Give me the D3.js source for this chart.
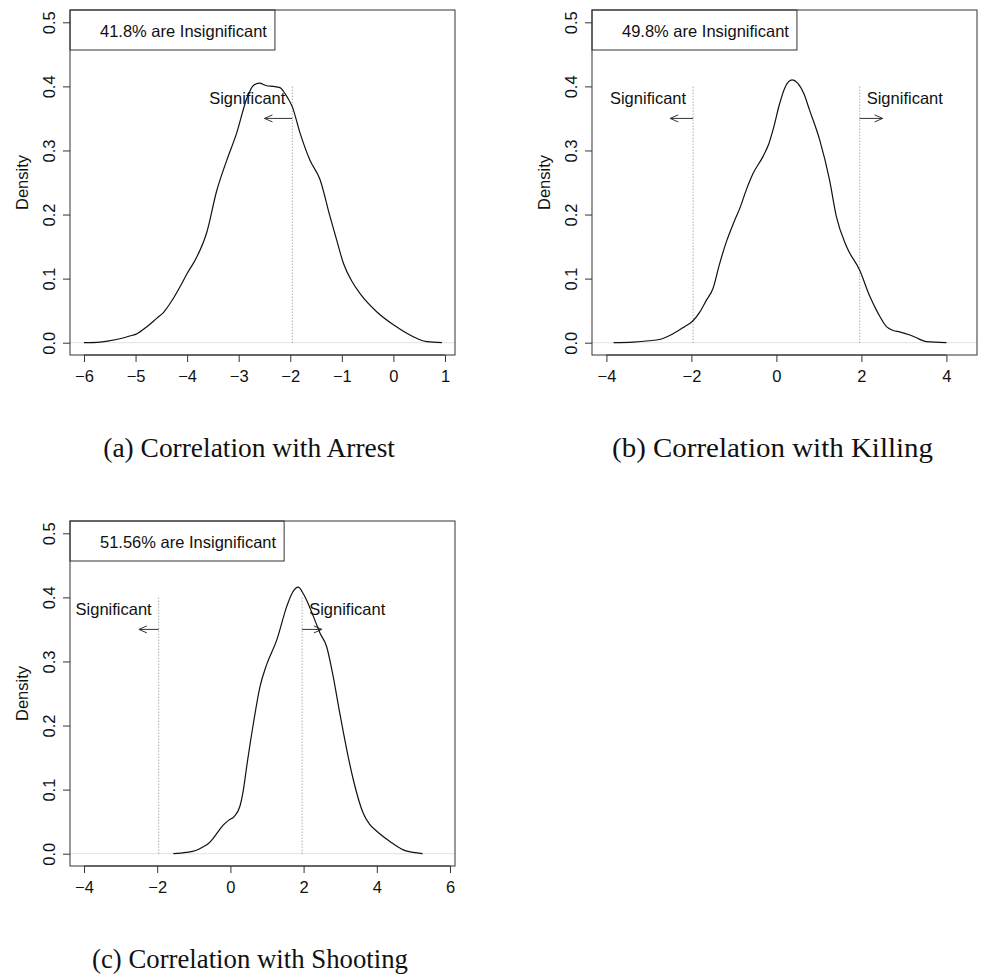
<!DOCTYPE html>
<html>
<head>
<meta charset="utf-8">
<script src="https://cdn.jsdelivr.net/npm/d3@7"></script>
<style>
  html, body { margin: 0; padding: 0; background: #fff; }
  svg { display: block; }
</style>
</head>
<body>
<svg id="chart" width="982" height="974"></svg>
<script>
// ---------------- data ----------------
const arrestX = [-6.0,-5.69,-5.37,-5.11,-5.0,-4.78,-4.59,-4.46,-4.3,-4.14,-4.0,-3.81,-3.62,-3.43,-3.23,-3.04,-2.84,-2.72,-2.6,-2.46,-2.33,-2.2,-2.13,-2.05,-1.96,-1.81,-1.62,-1.42,-1.23,-1.1,-0.97,-0.8,-0.65,-0.32,0.0,0.32,0.5,0.65,0.94];
const arrestY = [0,0.001,0.005,0.0105,0.013,0.025,0.038,0.047,0.065,0.087,0.108,0.134,0.172,0.236,0.285,0.327,0.382,0.401,0.405,0.401,0.400,0.398,0.392,0.382,0.368,0.327,0.285,0.254,0.197,0.16,0.124,0.095,0.077,0.048,0.028,0.012,0.005,0.0016,0];

const killingX = [-3.83,-3.37,-3.0,-2.75,-2.43,-2.16,-1.98,-1.8,-1.65,-1.49,-1.35,-1.18,-1.0,-0.86,-0.7,-0.55,-0.32,-0.18,-0.08,0.08,0.2,0.37,0.5,0.65,0.78,1.02,1.25,1.41,1.65,1.96,2.2,2.4,2.59,2.75,2.9,3.14,3.35,3.53,4.0];
const killingY = [0,0.001,0.003,0.005,0.014,0.025,0.033,0.048,0.066,0.085,0.12,0.157,0.188,0.210,0.24,0.264,0.29,0.31,0.332,0.374,0.398,0.41,0.405,0.388,0.363,0.316,0.254,0.197,0.15,0.113,0.072,0.045,0.025,0.019,0.017,0.012,0.006,0.0016,0];

const shootingX = [-1.56,-1.2,-0.95,-0.74,-0.6,-0.47,-0.33,-0.19,-0.05,0.1,0.26,0.35,0.445,0.63,0.81,0.99,1.27,1.54,1.7,1.85,2.0,2.08,2.27,2.45,2.63,2.81,2.99,3.18,3.36,3.63,3.8,4.0,4.36,4.72,5.0,5.25];
const shootingY = [0,0.002,0.005,0.011,0.016,0.024,0.035,0.045,0.052,0.058,0.074,0.098,0.136,0.204,0.261,0.295,0.334,0.386,0.408,0.416,0.405,0.396,0.37,0.344,0.323,0.276,0.219,0.162,0.115,0.063,0.046,0.035,0.019,0.006,0.002,0];

const xTicksArrest = [-6,-5,-4,-3,-2,-1,0,1];
const xTicksKilling = [-4,-2,0,2,4];
const xTicksShooting = [-4,-2,0,2,4,6];
const yTicks = [0,0.1,0.2,0.3,0.4,0.5];
const yTickLabels = ["0.0","0.1","0.2","0.3","0.4","0.5"];

const insignificantLabels = ["41.8% are Insignificant","49.8% are Insignificant","51.56% are Insignificant"];
const captions = ["(a) Correlation with Arrest","(b) Correlation with Killing","(c) Correlation with Shooting"];
const criticalValue = 1.96;
const sigLevel = 0.4;      // top of dotted line
const sigTextY = 0.38;
const arrowY = 0.35;
const arrowEnd = 2.5;
const sigSides = [["left"],["left","right"],["left","right"]];

// ---------------- layout ----------------
const layouts = [
  {left:70,  top:10,  xDomain:[-6.271,1.194], ticks:xTicksArrest,  xs:arrestX,  ys:arrestY,
   capX:103.3, capW:291.7, capY:456.7},
  {left:592, top:10,  xDomain:[-4.339,4.72],  ticks:xTicksKilling, xs:killingX, ys:killingY,
   capX:612, capW:321, capY:456.7},
  {left:70,  top:521, xDomain:[-4.383,6.137], ticks:xTicksShooting, xs:shootingX, ys:shootingY,
   capX:92, capW:316, capY:968}
];
const PW = 385, PH = 345;
const sans = "'Liberation Sans', Arial, Helvetica, sans-serif";
const serif = "'Liberation Serif', 'Times New Roman', serif";
const fs = 16.5;
const fmtMinus = d => String(d).replace("-", "\u2212");

const svg = d3.select("#chart");
svg.append("rect").attr("width",982).attr("height",974).attr("fill","#fff");

layouts.forEach((L, i) => {
  const g = svg.append("g").attr("transform", `translate(${L.left},${L.top})`);
  const x = d3.scaleLinear().domain(L.xDomain).range([0, PW]);
  const y = d3.scaleLinear().domain([-0.0192, 0.5192]).range([PH, 0]);

  // zero line
  g.append("line").attr("x1",0).attr("x2",PW).attr("y1",y(0)).attr("y2",y(0))
    .attr("stroke","#e2e2e2").attr("stroke-width",1);

  // dotted critical lines
  sigSides[i].forEach(side => {
    const cv = side === "left" ? -criticalValue : criticalValue;
    const sx = x(cv);
    g.append("line").attr("x1",sx).attr("x2",sx).attr("y1",y(0)).attr("y2",y(sigLevel))
      .attr("stroke","#8a8a8a").attr("stroke-width",1).attr("stroke-dasharray","1,2");
    // label
    g.append("text")
      .attr("x", side === "left" ? sx - 7 : sx + 7)
      .attr("y", y(sigTextY) + 4.5)
      .attr("text-anchor", side === "left" ? "end" : "start")
      .attr("font-family", sans).attr("font-size", fs).attr("fill","#111")
      .text("Significant");
    // arrow
    const ex = x(side === "left" ? -arrowEnd : arrowEnd);
    const ay = y(arrowY);
    const dir = side === "left" ? 1 : -1;
    g.append("line").attr("x1",sx).attr("x2",ex).attr("y1",ay).attr("y2",ay)
      .attr("stroke","#333").attr("stroke-width",1);
    g.append("path")
      .attr("d", `M${ex + dir*8},${ay-3.5}L${ex},${ay}L${ex + dir*8},${ay+3.5}`)
      .attr("fill","none").attr("stroke","#333").attr("stroke-width",1);
  });

  // density curve
  const pts = L.xs.map((v,k) => [v, L.ys[k]]);
  const line = d3.line().x(d => x(d[0])).y(d => y(d[1])).curve(d3.curveMonotoneX);
  g.append("path").attr("d", line(pts)).attr("fill","none")
    .attr("stroke","#111").attr("stroke-width",1.2).attr("stroke-linejoin","round");

  // x axis
  const xa = g.append("g").attr("transform", `translate(0,${PH})`)
    .call(d3.axisBottom(x).tickValues(L.ticks).tickSize(7).tickSizeOuter(0).tickFormat(fmtMinus));
  xa.select(".domain").remove();
  xa.append("line").attr("x1", x(L.ticks[0])).attr("x2", x(L.ticks[L.ticks.length-1]))
    .attr("stroke","#333");
  xa.selectAll(".tick line").attr("stroke","#333");
  xa.selectAll("text").attr("y", 26.7).attr("dy", null)
    .attr("font-family", sans).attr("font-size", fs).attr("fill","#111");

  // y axis
  const ya = g.append("g")
    .call(d3.axisLeft(y).tickValues(yTicks).tickSize(7).tickSizeOuter(0)
      .tickFormat((d,k) => yTickLabels[k]));
  ya.select(".domain").remove();
  ya.selectAll(".tick line").attr("stroke","#333");
  ya.selectAll("text").attr("x", null).attr("dy", null).attr("y", null)
    .attr("transform", "translate(-15.5,0) rotate(-90)")
    .attr("text-anchor","middle")
    .attr("font-family", sans).attr("font-size", fs).attr("fill","#111");

  // y label
  g.append("text").attr("transform", `translate(-42,${PH/2}) rotate(-90)`)
    .attr("text-anchor","middle").attr("font-family", sans).attr("font-size", fs).attr("fill","#111")
    .text("Density");

  // legend box
  const lt = g.append("text").attr("x",30).attr("y",27)
    .attr("font-family", sans).attr("font-size", fs).attr("fill","#111")
    .text(insignificantLabels[i]);
  const tw = lt.node().getComputedTextLength();
  g.insert("rect", "text").attr("x",0).attr("y",0).attr("width", 30 + tw + 8).attr("height", 40)
    .attr("fill","#fff").attr("stroke","#333").attr("stroke-width",1);

  // plot box
  g.append("rect").attr("x",0).attr("y",0).attr("width",PW).attr("height",PH)
    .attr("fill","none").attr("stroke","#333").attr("stroke-width",1);

  // caption
  svg.append("text").attr("x", L.capX).attr("y", L.capY)
    .attr("font-family", serif).attr("font-size", 26.5).attr("fill","#111")
    .attr("textLength", L.capW).attr("lengthAdjust","spacingAndGlyphs")
    .text(captions[i]);
});
</script>
</body>
</html>
